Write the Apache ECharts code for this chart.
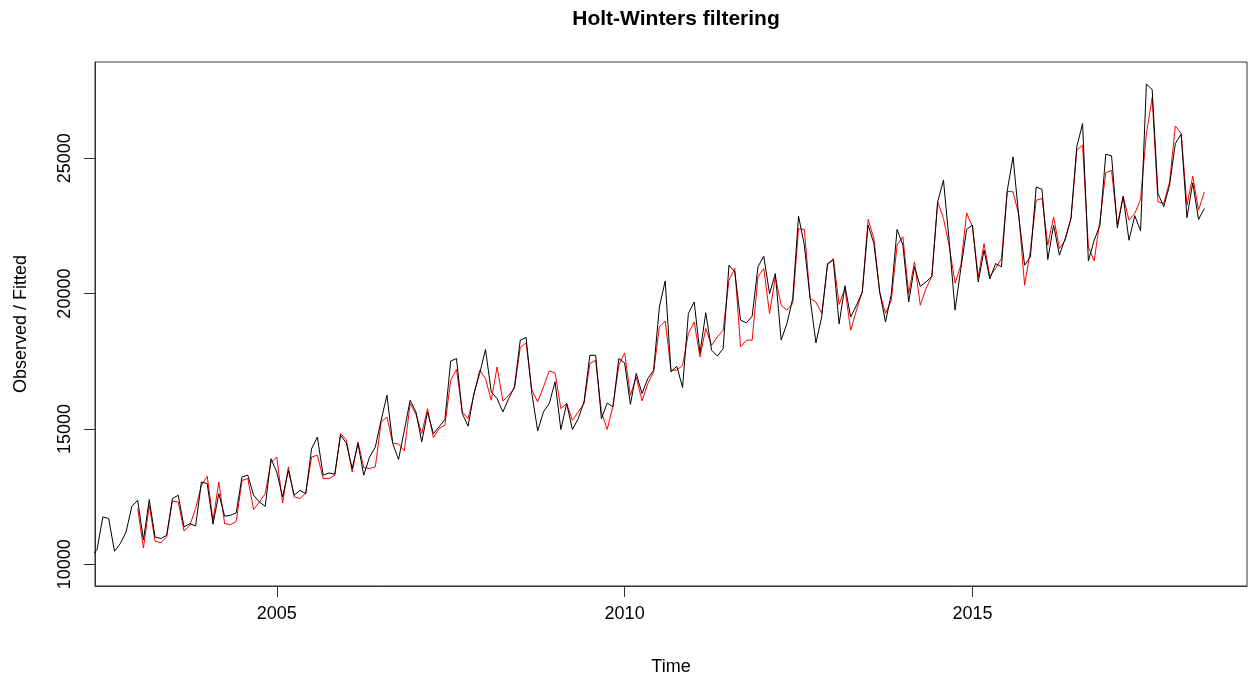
<!DOCTYPE html>
<html>
<head>
<meta charset="utf-8">
<script src="https://cdn.jsdelivr.net/npm/echarts@6/dist/echarts.min.js"></script>
<style>
html,body{margin:0;padding:0;background:#fff;}
#chart{width:1248px;height:677px;}
</style>
</head>
<body>
<div id="chart"></div>
<script>
// Observed series: monthly, starting May 2002
const observedStart = [2002, 5];
const observed = [
  10300, 10550, 11750, 11690, 10480, 10765, 11195, 12140,
  12365, 10900, 12390, 11010, 10950, 11070, 12430, 12550, 11380, 11500, 11415, 13040,
  12980, 11480, 12610, 11775, 11810, 11900, 13230, 13290, 12550, 12300, 12140, 13900,
  13410, 12490, 13470, 12550, 12730, 12610, 14270, 14700, 13290, 13375, 13325, 14770,
  14480, 13540, 14460, 13290, 13960, 14335, 15320, 16245, 14460, 13870, 14950, 16060,
  15630, 14520, 15630, 14830, 15075, 15350, 17510, 17600, 15570, 15100, 16310, 17050,
  17935, 16370, 16120, 15630, 16120, 16555, 18280, 18380, 16310, 14930, 15630, 15940,
  16740, 14980, 15940, 14980, 15380, 16000, 17720, 17720, 15380, 15960, 15810, 17600,
  17440, 15910, 17050, 16310, 16860, 17170, 19510, 20470, 17105, 17320, 16530, 19265,
  19690, 17810, 19290, 17910, 17690, 17970, 21050, 20800, 19020, 18920, 19165, 20990,
  21380, 20000, 20740, 18280, 18895, 19820, 22860, 21790, 19820, 18180, 19140, 21110,
  21235, 18880, 20290, 19140, 19570, 20060, 22530, 21850, 20060, 18950, 19980, 22370,
  21790, 19690, 20990, 20270, 20430, 20640, 23390, 24190, 21910, 19390, 20930, 22370,
  22530, 20430, 21600, 20540, 21110, 20990, 23800, 25050, 22835, 21050, 21360, 23940,
  23850, 21260, 22530, 21420, 22035, 22775, 25420, 26280, 21210, 21970, 22530, 25150,
  25090, 22420, 23600, 21970, 22880, 22320, 27740, 27540, 23700, 23210, 24000, 25550,
  25890, 22810, 24090, 22740, 23145
];
// Fitted series: monthly, starting January 2003
const fittedStart = [2003, 1];
const fitted = [
  12060, 10600, 12180, 10850, 10800, 11010, 12340, 12300, 11230, 11440, 12060, 12920,
  13250, 11625, 13040, 11500, 11470, 11580, 13100, 13165, 12020, 12300, 12610, 13780,
  13960, 12270, 13600, 12490, 12430, 12630, 13960, 14030, 13165, 13165, 13290, 14830,
  14600, 13410, 14520, 13570, 13540, 13600, 15260, 15440, 14480, 14440, 14190, 15940,
  15550, 14830, 15750, 14680, 15010, 15140, 16800, 17195, 15630, 15380, 16245, 17170,
  16860, 16060, 17290, 16030, 16245, 16500, 18010, 18180, 16430, 16000, 16555, 17145,
  17070, 15750, 15940, 15320, 15630, 15940, 17415, 17540, 15630, 14980, 15875, 17350,
  17810, 16245, 16920, 16035, 16680, 17105, 18770, 18990, 17170, 17170, 17355, 18525,
  18950, 17660, 18710, 18090, 18400, 18650, 20490, 20935, 18030, 18280, 18280, 20620,
  20930, 19265, 20620, 19570, 19390, 19635, 22400, 22370, 19820, 19690, 19265, 21050,
  21300, 19600, 20190, 18650, 19390, 20060, 22740, 22035, 20060, 19265, 19755, 21790,
  22100, 20000, 21170, 19570, 20190, 20640, 23390, 22775, 21750, 20390, 21050, 22980,
  22465, 20620, 21850, 20640, 20930, 21300, 23775, 23760, 22900, 20310, 21600, 23450,
  23510, 21790, 22835, 21665, 21975, 22775, 25300, 25480, 21725, 21210, 22715, 24470,
  24550, 22560, 23580, 22715, 22960, 23480, 25900, 27245, 23390, 23330, 24125, 26190,
  25915, 23265, 24340, 23080, 23760
];
const xTicks = [2005, 2010, 2015];
const yTicks = [10000, 15000, 20000, 25000];
const titleText = 'Holt-Winters filtering';
const xName = 'Time';
const yName = 'Observed / Fitted';

function toPairs(start, vals) {
  const t0 = start[0] + (start[1] - 1) / 12;
  return vals.map((v, i) => [t0 + i / 12, v]);
}

const FONT = '"Liberation Sans", Arial, sans-serif';
const chart = echarts.init(document.getElementById('chart'), null, {renderer: 'canvas'});
chart.setOption({
  animation: false,
  backgroundColor: '#fff',
  title: {
    text: titleText,
    left: 671,
    textAlign: 'center',
    top: 4,
    textStyle: {fontFamily: FONT, fontSize: 21, fontWeight: 'bold', color: '#000'}
  },
  grid: {
    left: 95, right: 1, top: 62, bottom: 91,
    outerBoundsMode: 'none', containLabel: false,
    show: true, borderColor: '#333', borderWidth: 1, backgroundColor: 'transparent'
  },
  xAxis: {
    type: 'value',
    min: 2002.3867, max: 2018.9467,
    name: xName, nameLocation: 'middle', nameGap: 72,
    nameTextStyle: {fontFamily: FONT, fontSize: 18, color: '#000'},
    axisLine: {show: true, lineStyle: {color: '#333', width: 1}},
    axisTick: {show: true, length: 11, lineStyle: {color: '#333'}, customValues: xTicks},
    axisLabel: {show: true, margin: 19, fontFamily: FONT, fontSize: 18, color: '#000',
      customValues: xTicks, formatter: v => String(v)},
    splitLine: {show: false}
  },
  yAxis: {
    type: 'value',
    min: 9198, max: 28556,
    name: yName, nameLocation: 'middle', nameGap: 65,
    nameTextStyle: {fontFamily: FONT, fontSize: 18, color: '#000'},
    axisLine: {show: true, lineStyle: {color: '#333', width: 1}},
    axisTick: {show: true, length: 11, lineStyle: {color: '#333'}, customValues: yTicks},
    axisLabel: {show: true, rotate: 90, margin: 21, fontFamily: FONT, fontSize: 18, color: '#000',
      customValues: yTicks, formatter: v => String(v)},
    splitLine: {show: false}
  },
  series: [
    {
      name: 'Fitted', type: 'line', data: toPairs(fittedStart, fitted),
      showSymbol: false, symbol: 'none', clip: true,
      lineStyle: {color: '#ff0000', width: 1}
    },
    {
      name: 'Observed', type: 'line', data: toPairs(observedStart, observed),
      showSymbol: false, symbol: 'none', clip: true,
      lineStyle: {color: '#000000', width: 1}
    }
  ]
});
</script>
</body>
</html>
